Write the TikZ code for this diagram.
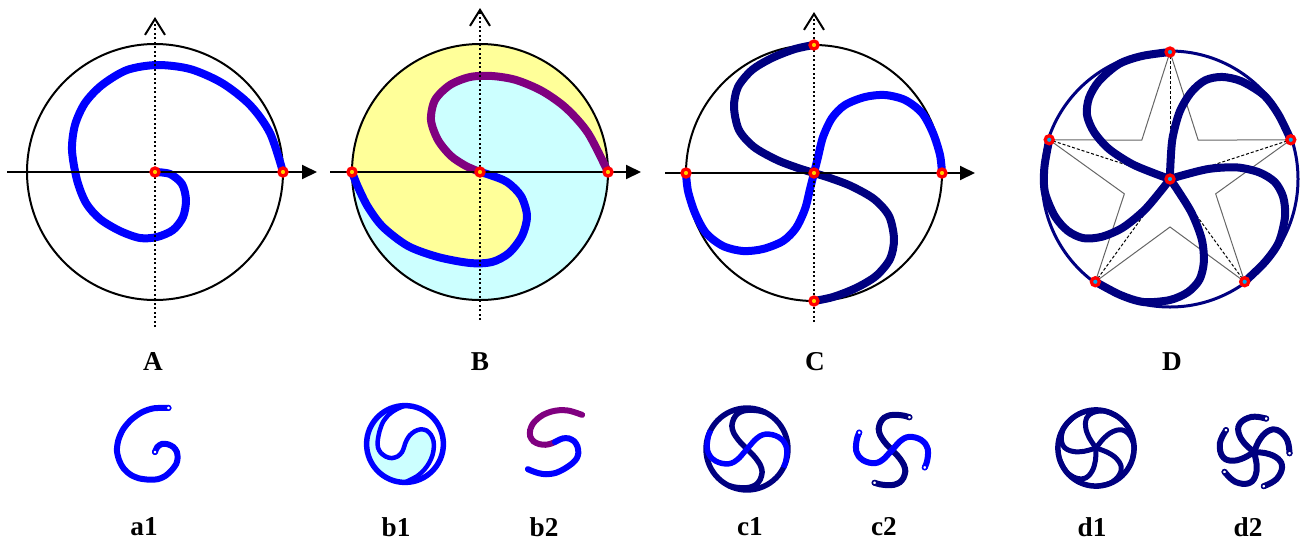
\documentclass[tikz,border=0pt]{standalone}
\usepackage{fontspec}
\setmainfont{Liberation Serif}
\usetikzlibrary{arrows.meta}

\definecolor{navy}{RGB}{0,0,128}
\definecolor{plum}{RGB}{128,0,128}
\definecolor{paleyellow}{RGB}{255,255,153}
\definecolor{palecyan}{RGB}{204,255,255}
\definecolor{dotcore}{RGB}{255,210,0}

% curves, relative to the centre of their circle (radius 128)
\newcommand\spiralA{plot[smooth] coordinates {(0,0) (15,2) (27,12) (31,28) (28,45) (18,58) (2,65) (-15,66) (-35,59) (-55,47) (-69,31) (-78,8) (-83,-22) (-80,-47) (-70,-69) (-53,-87) (-28,-102) (2,-107) (35,-103) (67,-89) (95,-67) (115,-39) (128,0)}}
\newcommand\hookBup{plot[smooth] coordinates {(0,0) (-14,-6) (-29,-16) (-42,-32) (-49,-52) (-45,-72) (-30,-87) (-10,-95) (12,-96) (36,-92) (62,-81) (86,-64) (108,-39) (128,0)}}
\newcommand\ptsBdown{(-128,0) (-122,15) (-112,35) (-97,55) (-72,74) (-42,85) (-10,91) (12,90) (29,81) (42,64) (47,44) (41,24) (27,10) (10,3) (0,0)}
\edef\hookBdown{plot[smooth] coordinates {\ptsBdown}}
\edef\hookBdownJ{-- plot[smooth] coordinates {\ptsBdown}}
\newcommand\armCblue{plot[smooth] coordinates {(0,0) (4,-16) (9,-36) (18,-55) (31,-68) (51,-76) (71,-78) (91,-73) (108,-60) (119,-40) (126,-18) (128,0)}}
\newcommand\armCnavy{plot[smooth] coordinates {(0,-128) (-19,-124) (-42,-115) (-62,-103) (-76,-86) (-80,-66) (-75,-43) (-60,-26) (-37,-13) (-16,-5) (0,0)}}
\newcommand\armD{plot[smooth] coordinates {(0,-127) (-28,-123) (-51,-115) (-71,-98) (-81,-81) (-83,-64) (-76,-47) (-61,-30) (-38,-15) (-14,-5) (0,0)}}

\begin{document}
\begin{tikzpicture}[x=0.02cm, y=-0.02cm,
  font=\fontsize{15.5}{18}\selectfont\bfseries,
  circ/.style={line width=0.04cm},
  haxis/.style={line width=0.04cm, -{Triangle[length=0.3cm, width=0.28cm]}},
  vaxis/.style={line width=0.04cm, dash pattern=on 0.04cm off 0.05cm,
                -{Straight Barb[length=0.32cm, width=0.4cm]}},
  bigline/.style={line width=0.16cm, line cap=round},
  smallline/.style={line width=0.12cm, line cap=round},
  hit/.style={circle, draw=red, line width=0.065cm, fill=dotcore,
              minimum size=0.16cm, inner sep=0pt},
  hitD/.style={hit, fill=cyan},
  tipmark/.style={circle, draw=#1, fill=white, line width=0.03cm,
                  minimum size=0.09cm, inner sep=0pt},
  starline/.style={line width=0.02cm, black!60},
  spoke/.style={line width=0.02cm, dash pattern=on 0.06cm off 0.04cm}
]
\useasboundingbox (0,0) rectangle (1306,552);

% --- A
\begin{scope}[shift={(155,172)}]
  \draw[circ] (0,0) circle[radius=128];
  \draw[bigline, blue] \spiralA;
  \draw[haxis] (-148,0) -- (162,0);
  \draw[vaxis] (0,155) -- (0,-155);
  \node[hit] (A0) at (0,0) {};
  \node[hit] (A1) at (128,0) {};
\end{scope}
\node (labA) at (153,362) {A};

% --- B
\begin{scope}[shift={(480,172)}]
  \fill[paleyellow] (0,0) circle[radius=128];
  \fill[palecyan] \hookBup arc[start angle=0, end angle=180, radius=128] \hookBdownJ -- cycle;
  \draw[circ] (0,0) circle[radius=128];
  \draw[bigline, plum] \hookBup;
  \draw[bigline, blue] \hookBdown;
  \draw[haxis] (-150,0) -- (161,0);
  \draw[vaxis] (0,148) -- (0,-164);
  \node[hit] (B0) at (0,0) {};
  \node[hit] (B1) at (128,0) {};
  \node[hit] (B2) at (-128,0) {};
\end{scope}
\node (labB) at (480,362) {B};

% --- C
\begin{scope}[shift={(814,173)}]
  \draw[circ] (0,0) circle[radius=128];
  \foreach \r in {0,180} \draw[bigline, navy, rotate=\r] \armCnavy;
  \foreach \r in {0,180} \draw[bigline, blue, rotate=\r] \armCblue;
  \draw[haxis] (-149,0) -- (161,0);
  \draw[vaxis] (0,149) -- (0,-161);
  \node[hit] (C0) at (0,0) {};
  \node[hit] (C1) at (128,0) {};
  \node[hit] (C2) at (0,-128) {};
  \node[hit] (C3) at (-128,0) {};
  \node[hit] (C4) at (0,128) {};
\end{scope}
\node (labC) at (815,362) {C};

% --- D
\begin{scope}[shift={(1170,179)}]
  \draw[navy, line width=0.06cm] (0,0) circle[radius=128];
  \foreach \k in {0,...,4} {
    \draw[starline] ({-90-72*\k}:127) -- ({-126-72*\k}:48) -- ({-162-72*\k}:127);
    \draw[spoke] (0,0) -- ({-90-72*\k}:127);
  }
  \foreach \k in {0,...,4} \draw[bigline, navy, rotate=72*\k] \armD;
  \foreach \k in {0,...,4} \node[hitD] (D\k) at ({-90-72*\k}:127) {};
  \node[hitD] (Dc) at (0,0) {};
\end{scope}
\node (labD) at (1172,362) {D};

% --- small copies
\begin{scope}[shift={(155,452)}, rotate=73, scale=0.36]
  \draw[smallline, blue] \spiralA;
  \node[tipmark=blue] (a1in) at (0,0) {};
  \node[tipmark=blue] (a1out) at (128,0) {};
\end{scope}

\begin{scope}[shift={(405,444)}, rotate=-90, scale=0.3]
  \fill[palecyan] \hookBup arc[start angle=0, end angle=180, radius=128] \hookBdownJ -- cycle;
  \draw[blue, line width=0.11cm] (0,0) circle[radius=128];
  \draw[blue, line width=0.09cm] \hookBdown \hookBup;
\end{scope}

\begin{scope}[shift={(555,442)}, rotate=45, scale=0.3]
  \draw[smallline, plum] \hookBup;
  \draw[smallline, blue] \hookBdown;
\end{scope}

\begin{scope}[shift={(747,449)}, rotate=-27, scale=0.32]
  \draw[navy, line width=0.11cm] (0,0) circle[radius=128];
  \foreach \r in {0,180} \draw[navy, line width=0.11cm, rotate=\r] \armCnavy;
  \foreach \r in {0,180} \draw[blue, line width=0.11cm, rotate=\r] \armCblue;
\end{scope}

\begin{scope}[shift={(892,450)}, rotate=-28, scale=0.29]
  \foreach \r in {0,180} \draw[smallline, navy, rotate=\r] \armCnavy;
  \foreach \r in {0,180} \draw[smallline, blue, rotate=\r] \armCblue;
  \node[tipmark=navy] (c2a) at (0,-128) {};
  \node[tipmark=navy] (c2b) at (0,128) {};
  \node[tipmark=blue] (c2c) at (128,0) {};
  \node[tipmark=blue] (c2d) at (-128,0) {};
\end{scope}

\begin{scope}[shift={(1096,448)}, rotate=-35, scale=0.3]
  \draw[navy, line width=0.11cm] (0,0) circle[radius=127];
  \foreach \k in {0,...,4} \draw[navy, line width=0.1cm, rotate=72*\k] \armD;
\end{scope}

\begin{scope}[shift={(1254,452)}, rotate=-20, scale=0.28]
  \foreach \k in {0,...,4} \draw[smallline, navy, rotate=72*\k] \armD;
  \foreach \k in {0,...,4} \node[tipmark=navy] (d2t\k) at ({-90-72*\k}:127) {};
\end{scope}

% --- labels of the small copies
\node (laba1) at (144,527) {a1};
\node (labb1) at (396,527) {b1};
\node (labb2) at (544,527) {b2};
\node (labc1) at (750,527) {c1};
\node (labc2) at (884,527) {c2};
\node (labd1) at (1092,527) {d1};
\node (labd2) at (1248,527) {d2};
\end{tikzpicture}
\end{document}
